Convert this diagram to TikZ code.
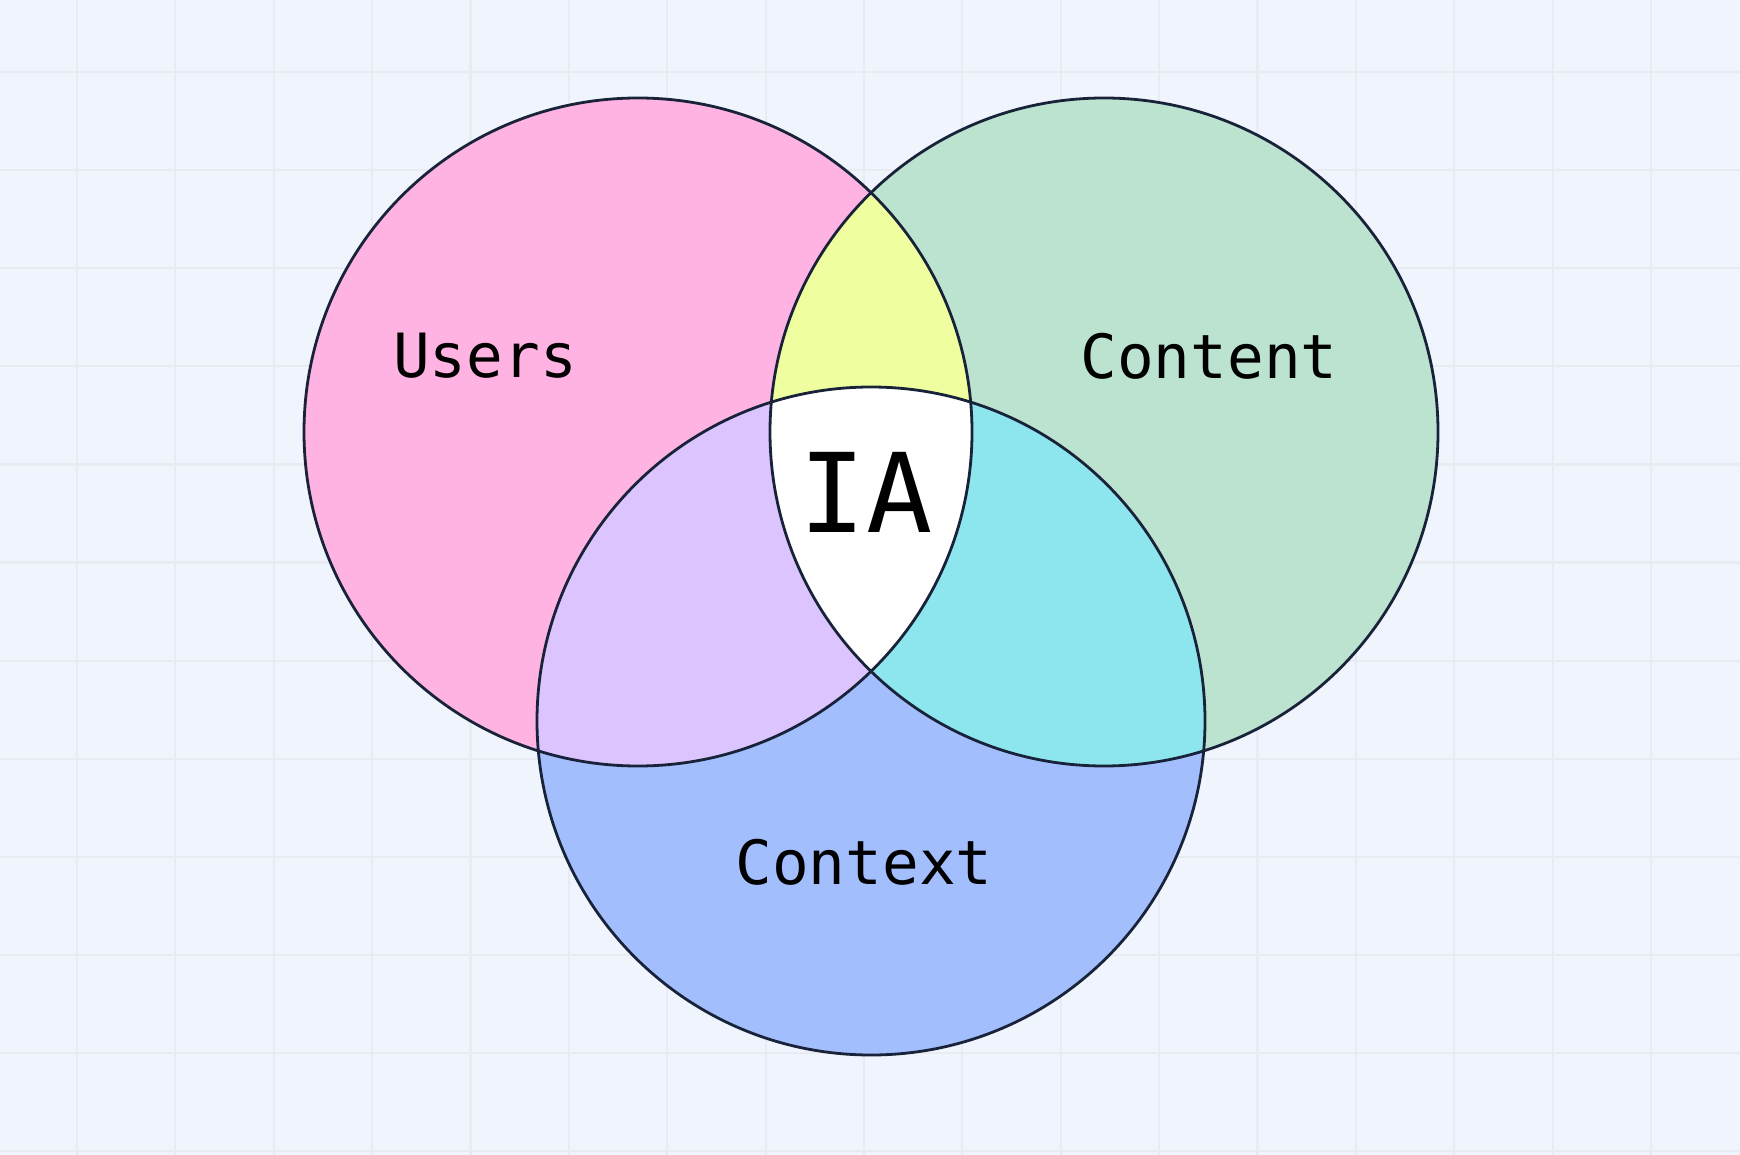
\documentclass[tikz,border=0pt]{standalone}
\usepackage{fontspec}
\newfontfamily\labelfont{DejaVu Sans Mono}
\definecolor{bg}{HTML}{EFF4FD}
\definecolor{gridc}{HTML}{E8EBF1}
\definecolor{pinkc}{HTML}{FFB3E3}
\definecolor{greenc}{HTML}{BCE3D0}
\definecolor{bluec}{HTML}{A3BEFD}
\definecolor{yellowc}{HTML}{EFFF9F}
\definecolor{purplec}{HTML}{DCC4FF}
\definecolor{cyanc}{HTML}{8DE5EE}
\definecolor{linec}{HTML}{18233A}
\tikzset{
  gridline/.style={draw=gridc, line width=2.2pt},
  ringline/.style={draw=linec, line width=2.8pt},
  lbl/.style={font=\labelfont\fontsize{61}{70}\selectfont, inner sep=0pt, text=black},
  biglbl/.style={font=\labelfont\fontsize{110}{120}\selectfont, inner sep=0pt, text=black}
}
\begin{document}
\begin{tikzpicture}[x=1pt,y=-1pt]
\useasboundingbox (0,0) rectangle (1740,1155);
\fill[bg] (0,0) rectangle (1740,1155);
\foreach \i in {0,...,16} \draw[gridline] ({77+98.375*\i},0) -- ({77+98.375*\i},1155);
\foreach \j in {0,...,11} \draw[gridline] (0,{72+98.1*\j}) -- (1740,{72+98.1*\j});
\coordinate (cu) at (638,432);
\coordinate (cc) at (1104,432);
\coordinate (cx) at (871,721);
\def\R{334}
\fill[pinkc] (cu) circle[radius=\R];
\fill[greenc] (cc) circle[radius=\R];
\fill[bluec] (cx) circle[radius=\R];
\begin{scope}
  \clip (cu) circle[radius=\R];
  \fill[yellowc] (cc) circle[radius=\R];
\end{scope}
\begin{scope}
  \clip (cu) circle[radius=\R];
  \fill[purplec] (cx) circle[radius=\R];
\end{scope}
\begin{scope}
  \clip (cc) circle[radius=\R];
  \fill[cyanc] (cx) circle[radius=\R];
\end{scope}
\begin{scope}
  \clip (cu) circle[radius=\R];
  \clip (cc) circle[radius=\R];
  \fill[white] (cx) circle[radius=\R];
\end{scope}
\draw[ringline] (cu) circle[radius=\R];
\draw[ringline] (cc) circle[radius=\R];
\draw[ringline] (cx) circle[radius=\R];
\node[lbl] (users) at (485,356) {Users};
\node[lbl] (content) at (1209,356) {Content};
\node[lbl] (context) at (864,862) {Context};
\node[biglbl] (ia) at (866,492) {IA};
\end{tikzpicture}
\end{document}
